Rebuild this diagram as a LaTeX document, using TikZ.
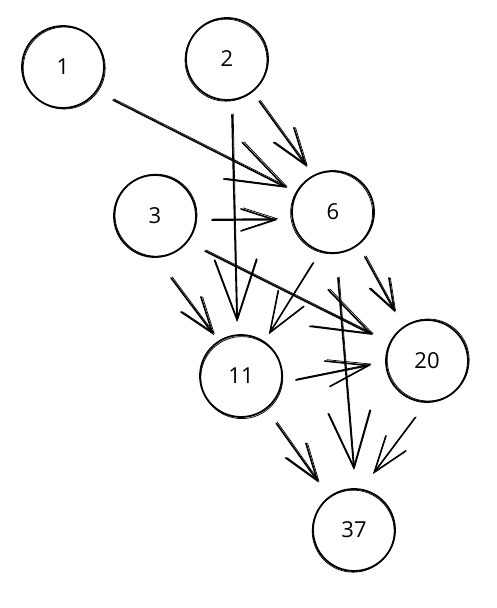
\documentclass[tikz,border=0pt]{standalone}
\usepackage{fontspec}
\setmainfont{Open Sans}
\usetikzlibrary{arrows.meta}
\begin{document}
\begin{tikzpicture}[x=1pt,y=-1pt,
  vtx/.style={circle,draw,line width=1.8pt,minimum size=82pt,inner sep=0pt,font=\fontsize{22}{22}\selectfont},
  sk/.style={line width=0.7pt},
  ed/.style 2 args={line width=1.6pt,line cap=round,line join=round,-{Straight Barb[length=#1pt,width=#2pt,line cap=round]}},
  edb/.style 2 args={line width=0.7pt,line cap=round,-{Straight Barb[length=#1pt,width=#2pt]}}]
\useasboundingbox (0,0) rectangle (496,608);
\node[vtx] (n1) at (63,67) {1};
\node[vtx] (n2) at (227,59) {2};
\node[vtx] (n3) at (155,216) {3};
\node[vtx] (n6) at (333,212) {6};
\node[vtx] (n11) at (241,376) {11};
\node[vtx] (n20) at (427,361) {20};
\node[vtx] (n37) at (354,530) {37};
% sketchy second outline
\foreach \n/\dx/\dy in {n1/1.2/1.0,n2/-1.0/1.2,n3/1.0/-0.8,n6/-1.4/0.8,n11/0.8/1.6,n20/1.2/-1.0,n37/-0.8/1.2}
  \draw[sk] ([shift={(\dx,\dy)}]\n.center) circle (41);
% edges: from/angle/dist/to/angle/dist/headlength/headwidth
\foreach \a/\aa/\ad/\b/\ba/\bd/\L/\W in {
  n1/33.4/60/n6/-152.4/52/58/41,
  n2/52.7/53/n6/-120/52/37/25,
  n2/84.9/56/n11/-94.2/54/60/42,
  n3/4/57/n6/171.9/56/34/22,
  n3/75.5/64/n11/-123.4/49/36/25,
  n3/35/61/n20/-154.3/60/58/41,
  n6/111.4/55/n11/-56.3/50/40/30,
  n6/54.6/55/n20/-123.1/58/31/22,
  n6/85.7/66/n37/-90/60/56/42,
  n11/4.2/55/n20/175.9/56/42/26,
  n11/53.3/59/n37/-126.7/59/37/25,
  n20/101.9/58/n37/-71.3/59/36/25}
{
  \draw[ed={\L}{\W}] ([shift={(\aa:\ad)}]\a.center) -- ([shift={(\ba:\bd)}]\b.center);
  \draw[edb={\L}{\W}] ([shift={(\aa:\ad)},xshift=1.2,yshift=1.0]\a.center) -- ([shift={(\ba:\bd)},xshift=0.6,yshift=1.2]\b.center);
}
\end{tikzpicture}
\end{document}
